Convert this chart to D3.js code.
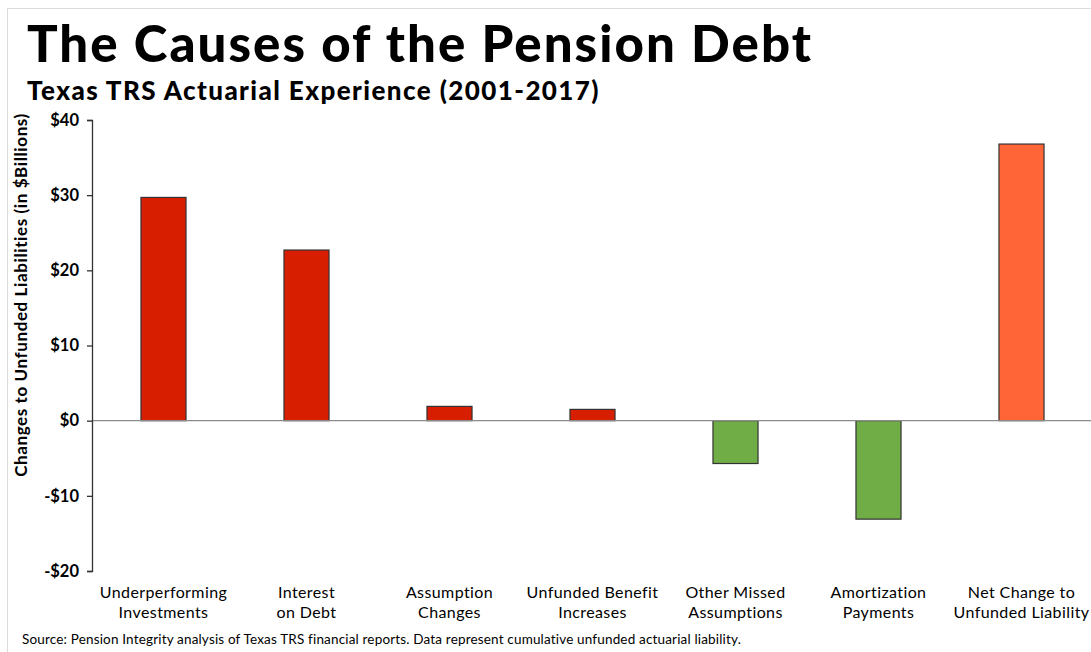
<!DOCTYPE html>
<html>
<head>
<meta charset="utf-8">
<script src="https://cdn.jsdelivr.net/npm/d3@7"></script>
<style>
    body { margin: 0; background: #fff; }
    svg { display: block; font-family: Lato, "Open Sans", sans-serif; }
</style>
</head>
<body>
<div id="chart"></div>
<script>

// chart values
const categories = [
    "Underperforming Investments",
    "Interest on Debt",
    "Assumption Changes",
    "Unfunded Benefit Increases",
    "Other Missed Assumptions",
    "Amortization Payments",
    "Net Change to Unfunded Liability"
];
const labelLines = [
    ["Underperforming", "Investments"],
    ["Interest", "on Debt"],
    ["Assumption", "Changes"],
    ["Unfunded Benefit", "Increases"],
    ["Other Missed", "Assumptions"],
    ["Amortization", "Payments"],
    ["Net Change to", "Unfunded Liability"]
];
const values = [29.7, 22.7, 1.9, 1.5, -5.7, -13.1, 36.8];
const yTicks = [-20, -10, 0, 10, 20, 30, 40];

// stretch a text with letter-spacing so it spans the wanted width (Gill Sans is wider than Lato)
function fitWidth(sel, target) {
    let node = sel.node();
    let len = node.getComputedTextLength();
    let n = sel.text().length;
    sel.style("letter-spacing", ((target - len) / n) + "px");
}

class CausesChart {
    constructor(_parentElement) {
        this.parentElement = _parentElement;
        this.initVis();
    }

    initVis() {
        let vis = this;

        vis.W = 1091;
        vis.H = 652;
        vis.margin = { top: 120, right: 0, bottom: 81, left: 92 };
        vis.width  = 1001;
        vis.height = vis.H - vis.margin.top - vis.margin.bottom;

        vis.root = d3.select("#" + vis.parentElement).append("svg")
            .attr("width", vis.W)
            .attr("height", vis.H);

        // light frame
        vis.root.append("rect")
            .attr("x", 7.5).attr("y", 8.5)
            .attr("width", vis.W).attr("height", vis.H)
            .style("fill", "none")
            .style("stroke", "#dcdcdc");

        let title = vis.root.append("text")
            .attr("x", 27).attr("y", 62)
            .style("font-size", "51px")
            .style("font-weight", 900)
            .text("The Causes of the Pension Debt");
        fitWidth(title, 786);

        let subtitle = vis.root.append("text")
            .attr("x", 27).attr("y", 100)
            .style("font-size", "26px")
            .style("font-weight", 900)
            .text("Texas TRS Actuarial Experience (2001-2017)");
        fitWidth(subtitle, 573);

        let ylab = vis.root.append("text")
            .attr("transform", "translate(27,295) rotate(-90)")
            .attr("text-anchor", "middle")
            .style("font-size", "17px")
            .style("font-weight", 700)
            .text("Changes to Unfunded Liabilities (in $Billions)");
        fitWidth(ylab, 364);

        let source = vis.root.append("text")
            .attr("x", 22).attr("y", 644)
            .style("font-size", "13.5px")
            .text("Source: Pension Integrity analysis of Texas TRS financial reports. Data represent cumulative unfunded actuarial liability.");
        fitWidth(source, 719);

        vis.svg = vis.root.append("g")
            .attr("transform", `translate(${vis.margin.left},${vis.margin.top})`);

        vis.x = d3.scaleBand().domain(categories).range([0, vis.width]);
        vis.y = d3.scaleLinear().domain([-20, 40]).range([vis.height, 0]);

        vis.barWidth = vis.x.bandwidth() * 0.315;

        vis.updateVis();
    }

    updateVis() {
        let vis = this;
        let data = categories.map((c, i) => ({ cat: c, value: values[i], idx: i }));

        let color = d => {
            if (d.idx === categories.length - 1) return "#ff6536";
            return d.value >= 0 ? "#d81e00" : "#70ad47";
        };

        vis.svg.selectAll(".bar")
            .data(data)
            .enter().append("rect")
            .attr("class", "bar")
            .attr("x", d => vis.x(d.cat) + (vis.x.bandwidth() - vis.barWidth) / 2)
            .attr("y", d => vis.y(Math.max(0, d.value)))
            .attr("width", vis.barWidth)
            .attr("height", d => Math.abs(vis.y(d.value) - vis.y(0)))
            .style("fill", color)
            .style("stroke", "#333")
            .style("stroke-width", 1.2);

        // zero line
        vis.svg.append("line")
            .attr("x1", 0).attr("x2", vis.W)
            .attr("y1", vis.y(0)).attr("y2", vis.y(0))
            .style("stroke", "#8c8c8c")
            .style("stroke-width", 1.2);

        let yAxis = vis.svg.append("g")
            .call(d3.axisLeft(vis.y)
                .tickValues(yTicks)
                .tickSizeOuter(0)
                .tickSize(5)
                .tickPadding(8)
                .tickFormat(d => (d < 0 ? "-$" : "$") + Math.abs(d)));
        yAxis.select(".domain").style("stroke", "#333").style("stroke-width", 1.3);
        yAxis.selectAll(".tick line").style("stroke", "#333").style("stroke-width", 1.3);
        yAxis.selectAll("text")
            .style("font-family", "Lato, sans-serif")
            .style("font-size", "16.5px")
            .style("font-weight", 700)
            .style("fill", "#000");

        // two-line category labels
        let labels = vis.svg.selectAll(".cat-label")
            .data(data)
            .enter().append("text")
            .attr("class", "cat-label")
            .attr("text-anchor", "middle")
            .attr("x", d => vis.x(d.cat) + vis.x.bandwidth() / 2)
            .attr("y", vis.height + 27)
            .style("font-size", "16px")
            .style("letter-spacing", "0.4px");
        labels.selectAll("tspan")
            .data(d => labelLines[d.idx])
            .enter().append("tspan")
            .attr("x", function() { return d3.select(this.parentNode).attr("x"); })
            .attr("dy", (d, i) => i === 0 ? 0 : 20)
            .text(d => d);
    }
}

new CausesChart("chart");
</script>
</body>
</html>
